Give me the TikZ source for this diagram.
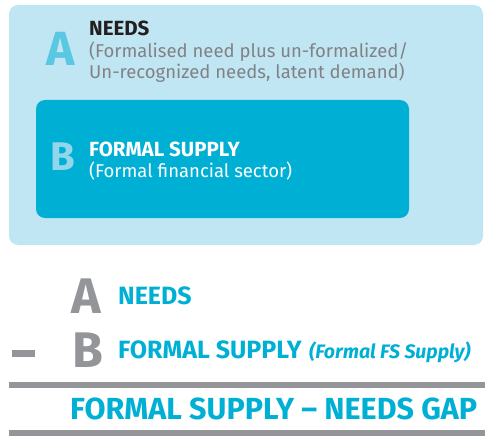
\documentclass[tikz,border=0pt]{standalone}
\usepackage{fontspec}
\setmainfont{Fira Sans}
\usetikzlibrary{calc}

\begin{document}
\begin{tikzpicture}[x=1pt,y=-1pt]
    \definecolor{gap-pale}{HTML}{C1E6F3}
    \definecolor{gap-cyan}{HTML}{00B0D4}
    \definecolor{gap-letA}{HTML}{5AC8E3}
    \definecolor{gap-letB}{HTML}{92D6EC}
    \definecolor{gap-grey}{HTML}{939598}
    \definecolor{gap-text}{HTML}{808285}
    \definecolor{gap-ink}{HTML}{231F20}

    \tikzset{
      txt/.style={
        anchor=base west,
        inner sep=0pt,
        align=left
      },
      bigletter/.style={
        txt,
        font=\fontsize{48}{48}\selectfont\bfseries
      },
      headtxt/.style={
        txt,
        font=\fontsize{20.5}{21}\selectfont\bfseries
      },
      subtxt/.style={
        txt,
        font=\fontsize{18.5}{21}\selectfont
      },
      sumletter/.style={
        txt,
        text=gap-grey,
        font=\fontsize{50}{50}\selectfont\bfseries
      },
      sumtxt/.style={
        txt,
        text=gap-cyan,
        font=\fontsize{25}{25}\selectfont\bfseries
      },
      rule/.style={
        fill=gap-grey
      }
    }

    \useasboundingbox (0,0) rectangle (485,436);

    % Venn-like boxes
    \fill[gap-pale, rounded corners=9pt] (9,5) rectangle (483,245);
    \fill[gap-cyan, rounded corners=9pt] (36,100) rectangle (409,218);

    \node[bigletter, text=gap-letA] (needsA) at (46,66) {A};
    \node[headtxt, text=gap-ink] (needsT) at (89,36) {NEEDS};
    \node[subtxt, text=gap-text] (needsS) at (89,79)
      {(Formalised need plus un-formalized/\\Un-recognized needs, latent demand)};

    \node[bigletter, text=gap-letB, font=\fontsize{40}{40}\selectfont\bfseries] (supB) at (50,170) {B};
    \node[subtxt, text=white] (supT) at (89,177)
      {{\fontsize{20.5}{21}\selectfont\bfseries FORMAL SUPPLY}\\(Formal financial sector)};

    % subtraction
    \node[sumletter] (sumA) at (71,313) {A};
    \node[sumtxt] (sumNeeds) at (118,304) {NEEDS};
    \fill[gap-grey] (12,350) rectangle (35,357);
    \node[sumletter] (sumB) at (72,367) {B};
    \node[sumtxt] (sumSupply) at (118,358) {FORMAL SUPPLY};
    \node[sumtxt, font=\fontsize{19.5}{19.5}\selectfont\bfseries\itshape, anchor=base west]
      (sumNote) at ($(sumSupply.base east)+(7,0)$) {(Formal FS Supply)};

    \fill[rule] (9,382) rectangle (485,388);
    \node[sumtxt, font=\fontsize{30.5}{30.5}\selectfont\bfseries] (result) at (70,419)
      {FORMAL SUPPLY -- NEEDS GAP};
    \fill[rule] (9,430) rectangle (485,436);
  \end{tikzpicture}
\end{document}
